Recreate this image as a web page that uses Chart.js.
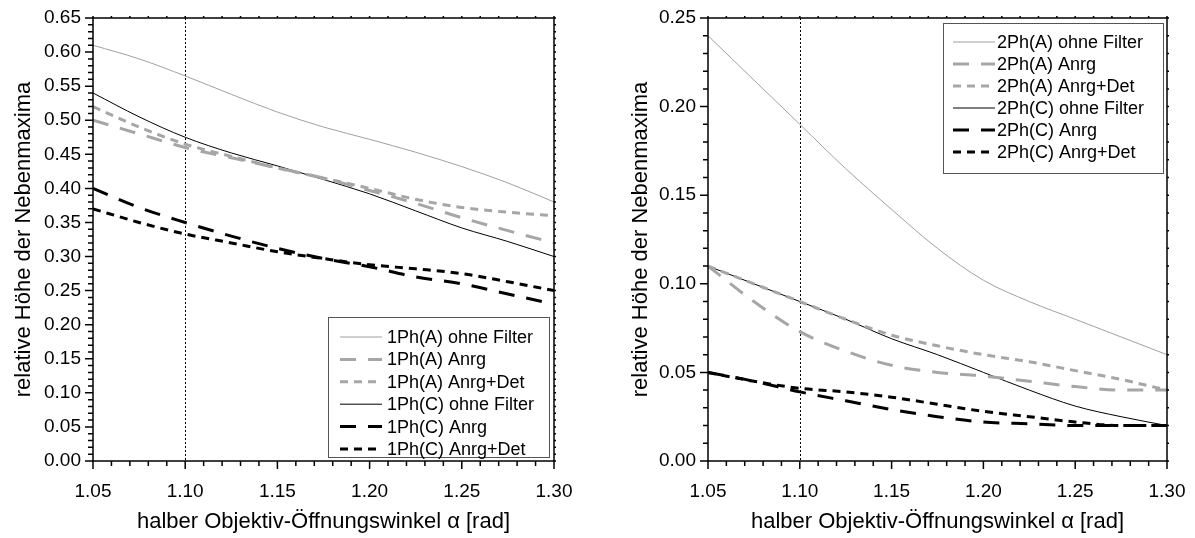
<!DOCTYPE html>
<html>
<head>
<meta charset="utf-8">
<script src="https://cdn.jsdelivr.net/npm/chart.js@4.4.1/dist/chart.umd.min.js"></script>
<style>
  html, body { margin: 0; padding: 0; background: #fff; }
  .wrap { position: absolute; top: 0; height: 538px; }
  #w1 { left: 0; width: 597px; }
  #w2 { left: 597px; width: 598px; }
</style>
</head>
<body>
<div class="wrap" id="w1"><canvas id="chart1" width="597" height="538"></canvas></div>
<div class="wrap" id="w2"><canvas id="chart2" width="598" height="538"></canvas></div>
<script>
// Winkel (x-Werte)
const alpha = [1.05, 1.075, 1.10, 1.125, 1.15, 1.175, 1.20, 1.225, 1.25, 1.275, 1.30];
const markerAlpha = 1.10;

// Einphotonen-Anregung
const ph1A_ohne = [0.61, 0.59, 0.565, 0.538, 0.512, 0.49, 0.472, 0.453, 0.432, 0.408, 0.38];
const ph1A_anrg = [0.50, 0.48, 0.46, 0.445, 0.43, 0.415, 0.397, 0.378, 0.357, 0.338, 0.32];
const ph1A_det  = [0.52, 0.49, 0.465, 0.447, 0.43, 0.415, 0.40, 0.384, 0.372, 0.365, 0.36];
const ph1C_ohne = [0.54, 0.505, 0.475, 0.452, 0.433, 0.413, 0.392, 0.367, 0.342, 0.322, 0.30];
const ph1C_anrg = [0.40, 0.372, 0.35, 0.33, 0.312, 0.297, 0.285, 0.27, 0.26, 0.245, 0.23];
const ph1C_det  = [0.37, 0.35, 0.333, 0.32, 0.307, 0.297, 0.288, 0.282, 0.275, 0.263, 0.25];

// Zweiphotonen-Anregung
const ph2A_ohne = [0.24, 0.215, 0.19, 0.165, 0.142, 0.12, 0.102, 0.09, 0.08, 0.07, 0.06];
const ph2A_anrg = [0.11, 0.09, 0.073, 0.062, 0.054, 0.05, 0.048, 0.045, 0.042, 0.04, 0.04];
const ph2A_det  = [0.11, 0.10, 0.09, 0.08, 0.071, 0.065, 0.06, 0.056, 0.051, 0.046, 0.04];
const ph2C_ohne = [0.11, 0.10, 0.09, 0.08, 0.069, 0.06, 0.05, 0.04, 0.031, 0.025, 0.02];
const ph2C_anrg = [0.05, 0.045, 0.039, 0.034, 0.029, 0.025, 0.022, 0.021, 0.02, 0.02, 0.02];
const ph2C_det  = [0.05, 0.045, 0.041, 0.039, 0.036, 0.032, 0.028, 0.025, 0.022, 0.02, 0.02];

const legendNames1 = ['1Ph(A) ohne Filter', '1Ph(A) Anrg', '1Ph(A) Anrg+Det', '1Ph(C) ohne Filter', '1Ph(C) Anrg', '1Ph(C) Anrg+Det'];
const legendNames2 = ['2Ph(A) ohne Filter', '2Ph(A) Anrg', '2Ph(A) Anrg+Det', '2Ph(C) ohne Filter', '2Ph(C) Anrg', '2Ph(C) Anrg+Det'];

const FONT = "'Liberation Sans', Arial, sans-serif";
const GRAU = '#a6a6a6';

// Linienstile: dünn, lang gestrichelt, kurz gestrichelt
const styles = [
    { color: '#a0a0a0', width: 1, dash: [] },
    { color: GRAU, width: 3, dash: [16, 12] },
    { color: GRAU, width: 3, dash: [8, 6] },
    { color: '#000', width: 1, dash: [] },
    { color: '#000', width: 3, dash: [16, 12] },
    { color: '#000', width: 3, dash: [8, 6] }
];

function makeDatasets(names, series) {
    return series.map(function(vals, i) {
        return {
            label: names[i],
            data: vals.map(function(v, k) { return { x: alpha[k], y: v }; }),
            borderColor: styles[i].color,
            borderWidth: styles[i].width,
            borderDash: styles[i].dash,
            pointRadius: 0,
            cubicInterpolationMode: 'monotone',
            fill: false
        };
    });
}

// Rahmen, Haupt- und Nebenstriche, gepunktete Linie
const frameTicks = {
    id: 'frameTicks',
    beforeDatasetsDraw(chart) {
        const ctx = chart.ctx, xs = chart.scales.x;
        const a = chart.chartArea;
        const px = Math.round(xs.getPixelForValue(markerAlpha)) + 0.5;
        ctx.save();
        ctx.strokeStyle = '#000';
        ctx.lineWidth = 1;
        ctx.setLineDash([2, 2]);
        ctx.beginPath();
        ctx.moveTo(px, a.top);
        ctx.lineTo(px, a.bottom);
        ctx.stroke();
        ctx.restore();
    },
    afterDraw(chart, args, opts) {
        const ctx = chart.ctx, xs = chart.scales.x, ys = chart.scales.y;
        const a = chart.chartArea;
        ctx.save();
        ctx.strokeStyle = '#000';
        ctx.lineWidth = 1.5;
        ctx.setLineDash([]);
        ctx.strokeRect(a.left, a.top, a.right - a.left, a.bottom - a.top);
        ctx.beginPath();
        const nx = Math.round((xs.max - xs.min) / opts.xMinor);
        for (let i = 0; i <= nx; i++) {
            const v = xs.min + i * opts.xMinor;
            const p = xs.getPixelForValue(v);
            const major = i % 5 === 0;
            ctx.moveTo(p, a.bottom);
            ctx.lineTo(p, a.bottom + (major ? 8 : 5));
            ctx.moveTo(p, a.top);
            ctx.lineTo(p, a.top - 2);
        }
        const ny = Math.round((ys.max - ys.min) / opts.yMinor);
        for (let i = 0; i <= ny; i++) {
            const v = ys.min + i * opts.yMinor;
            const p = ys.getPixelForValue(v);
            const major = i % 5 === 0;
            ctx.moveTo(a.left, p);
            ctx.lineTo(a.left - (major ? 8 : 5), p);
            ctx.moveTo(a.right, p);
            ctx.lineTo(a.right + 2, p);
        }
        ctx.stroke();
        ctx.restore();
    }
};

// Legende im Diagramm
const legendBox = {
    id: 'legendBox',
    afterDatasetsDraw(chart, args, o) {
        const ctx = chart.ctx;
        ctx.save();
        ctx.fillStyle = '#fff';
        ctx.fillRect(o.x, o.y, o.w, o.h);
        ctx.strokeStyle = '#555';
        ctx.lineWidth = 1;
        ctx.strokeRect(o.x + 0.5, o.y + 0.5, o.w, o.h);
        ctx.font = '18px ' + FONT;
        ctx.textBaseline = 'middle';
        ctx.fillStyle = '#000';
        chart.data.datasets.forEach(function(ds, i) {
            const y = o.y + o.rowTop + i * o.rowH;
            ctx.beginPath();
            ctx.setLineDash(ds.borderDash);
            ctx.lineWidth = ds.borderWidth;
            ctx.strokeStyle = ds.borderColor;
            ctx.moveTo(o.x + o.lineFrom, y);
            ctx.lineTo(o.x + o.lineTo, y);
            ctx.stroke();
            ctx.fillText(ds.label, o.x + o.textX, y + 1);
        });
        ctx.restore();
    }
};

function makeChart(id, datasets, yMax, yWidth, padding, legend) {
    new Chart(document.getElementById(id).getContext('2d'), {
        type: 'line',
        data: { datasets: datasets },
        plugins: [frameTicks, legendBox],
        options: {
            responsive: false,
            animation: false,
            layout: { padding: padding },
            plugins: {
                legend: { display: false },
                tooltip: { enabled: false },
                frameTicks: { xMinor: 0.01, yMinor: 0.01 },
                legendBox: legend
            },
            scales: {
                x: {
                    type: 'linear',
                    min: 1.05,
                    max: 1.30,
                    afterFit: function(s) { s.height = 538 - padding.bottom - 461; },
                    // Platz unter der Achse über tickLength statt padding
                    grid: { display: false, drawTicks: true, tickLength: 17 },
                    border: { display: false },
                    ticks: {
                        stepSize: 0.05,
                        padding: 2,
                        color: '#000',
                        font: { family: FONT, size: 19 },
                        maxRotation: 0,
                        callback: function(v) { return v.toFixed(2); }
                    },
                    title: {
                        display: true,
                        text: 'halber Objektiv-Öffnungswinkel α [rad]',
                        color: '#000',
                        font: { family: FONT, size: 22 },
                        padding: 0
                    }
                },
                y: {
                    min: 0,
                    max: yMax,
                    afterFit: function(s) { s.width = yWidth; },
                    grid: { display: false, drawTicks: true, tickLength: 12 },
                    border: { display: false },
                    ticks: {
                        stepSize: 0.05,
                        padding: 0,
                        color: '#000',
                        font: { family: FONT, size: 19 },
                        callback: function(v) { return v.toFixed(2); }
                    },
                    title: {
                        display: true,
                        text: 'relative Höhe der Nebenmaxima',
                        color: '#000',
                        font: { family: FONT, size: 22 },
                        padding: 0
                    }
                }
            }
        }
    });
}

document.addEventListener('DOMContentLoaded', function() {
    makeChart('chart1',
        makeDatasets(legendNames1, [ph1A_ohne, ph1A_anrg, ph1A_det, ph1C_ohne, ph1C_anrg, ph1C_det]),
        0.65, 82, { left: 11, top: 18, right: 43, bottom: 3 },
        { x: 328, y: 317, w: 221, h: 140, rowTop: 20, rowH: 22.4, lineFrom: 12, lineTo: 54, textX: 59 });
    makeChart('chart2',
        makeDatasets(legendNames2, [ph2A_ohne, ph2A_anrg, ph2A_det, ph2C_ohne, ph2C_anrg, ph2C_det]),
        0.25, 80, { left: 31, top: 18, right: 28, bottom: 3 },
        { x: 346, y: 23, w: 220, h: 150, rowTop: 19, rowH: 22, lineFrom: 10, lineTo: 52, textX: 54 });
});
</script>
</body>
</html>
